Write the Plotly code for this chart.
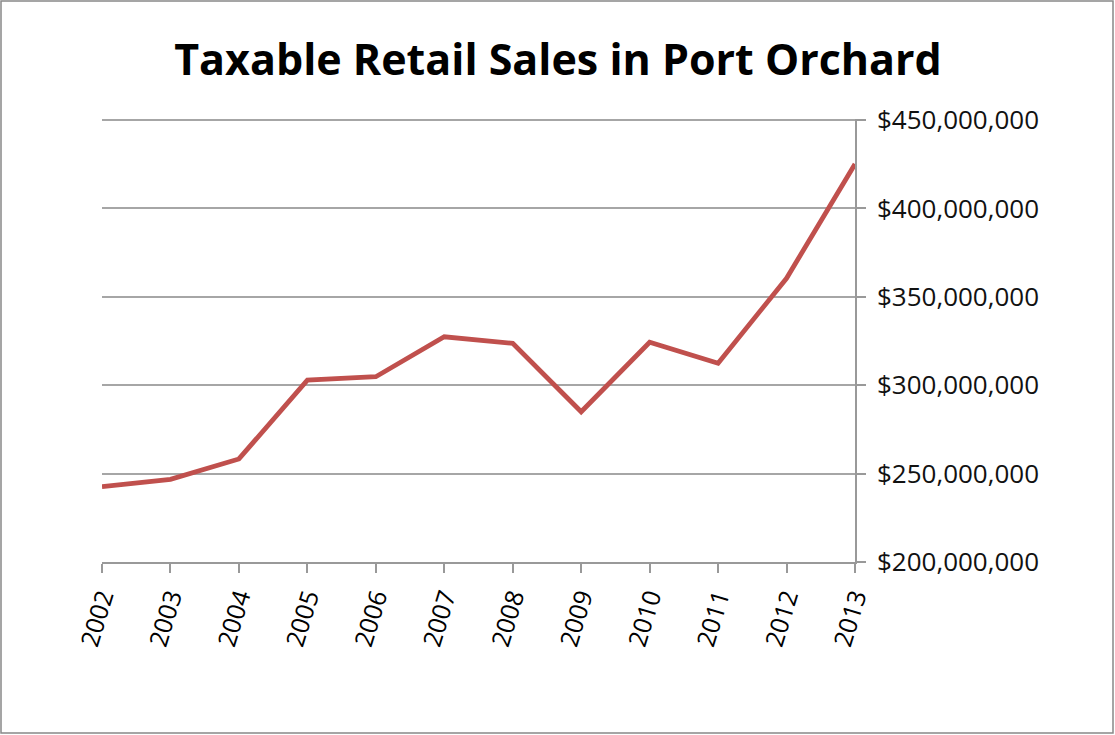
import plotly.graph_objects as go

years = [2002, 2003, 2004, 2005, 2006, 2007, 2008, 2009, 2010, 2011, 2012, 2013]
sales = [242.6e6, 246.8e6, 258.3e6, 302.9e6, 304.8e6, 327.4e6, 323.7e6, 285.0e6,
         324.3e6, 312.4e6, 360.5e6, 425.1e6]
y_ticks = [200e6, 250e6, 300e6, 350e6, 400e6, 450e6]
y_tick_labels = ["$200,000,000", "$250,000,000", "$300,000,000", "$350,000,000",
                 "$400,000,000", "$450,000,000"]
title_text = "Taxable Retail Sales in Port Orchard"

W, H = 1115, 735
L, R, T, B = 102, 260, 119, 173
pw, ph = W - L - R, H - T - B

fig = go.Figure()
fig.add_trace(go.Scatter(x=years, y=sales, mode="lines",
                         line=dict(color="#C0504D", width=4.8),
                         showlegend=False, hoverinfo="skip"))

fig.update_layout(
    width=W, height=H,
    margin=dict(l=L, r=R, t=T, b=B, pad=0),
    paper_bgcolor="white", plot_bgcolor="white",
    title=dict(text=title_text, x=(178 + 938) / 2 / W, xanchor="center",
               y=1 - 60 / H, yanchor="middle",
               font=dict(family="Open Sans", size=43, color="black", weight="bold")),
    font=dict(family="Open Sans", color="black"),
    xaxis=dict(range=[2002, 2013], tickmode="array", tickvals=years,
               ticktext=[str(y) for y in years], tickangle=-73,
               ticks="outside", ticklen=9, tickcolor="#999999", tickwidth=1.5,
               showline=True, linecolor="#999999", linewidth=1.5,
               showgrid=False, zeroline=False,
               tickfont=dict(size=25, family="Open Sans", color="black")),
    yaxis=dict(range=[200e6, 450.6e6], side="right", tickmode="array",
               tickvals=y_ticks, ticktext=y_tick_labels,
               ticks="outside", ticklen=9, tickcolor="#999999", tickwidth=1.5,
               ticklabelstandoff=6,
               showline=True, linecolor="#999999", linewidth=1.5,
               showgrid=True, gridcolor="#a6a6a6", gridwidth=1.5,
               zeroline=False,
               tickfont=dict(size=26, family="Open Sans", color="#111111")),
)

# outer chart border
fig.add_shape(type="rect", xref="paper", yref="paper",
              x0=(1 - L) / pw, x1=(W - 2 - L) / pw,
              y0=-(B - 2) / ph, y1=1 + (T - 1) / ph,
              line=dict(color="#888888", width=1.5), fillcolor="rgba(0,0,0,0)",
              layer="below")

fig.write_html("out.html", config={"displayModeBar": False},
               post_script="document.body.style.margin='0';document.body.style.padding='0';")
